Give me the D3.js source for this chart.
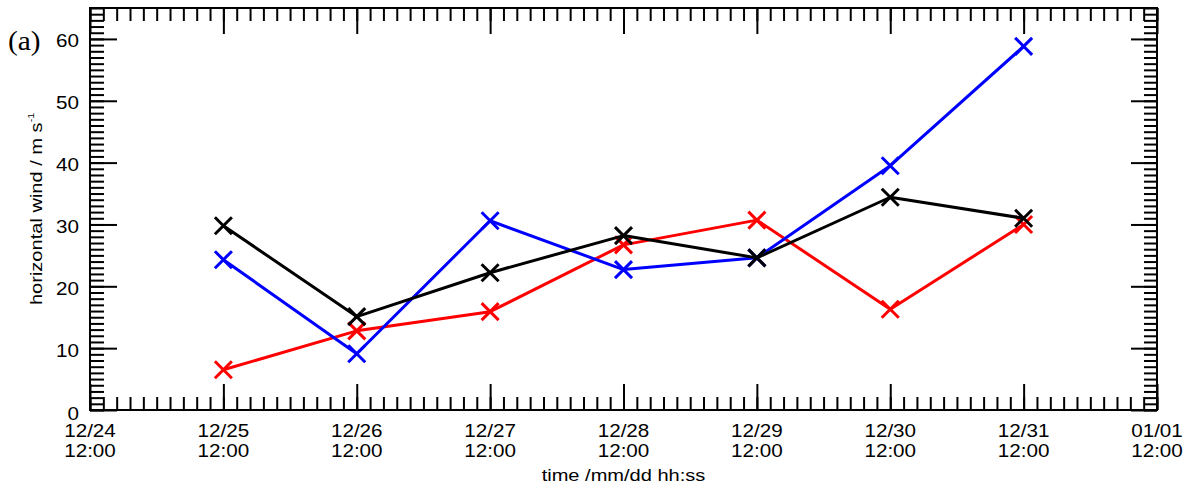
<!DOCTYPE html>
<html>
<head>
<meta charset="utf-8">
<script src="https://cdn.jsdelivr.net/npm/d3@7"></script>
<style>
  body { margin: 0; background: #fff; }
  text { font-family: "Liberation Sans", Arial, sans-serif; fill: #000; }
  text.serif { font-family: "Liberation Serif", "Times New Roman", serif; }
</style>
</head>
<body>
<div id="vis"></div>
<script>
// ---- data ----
var times = ["12/25 12:00", "12/26 12:00", "12/27 12:00", "12/28 12:00",
             "12/29 12:00", "12/30 12:00", "12/31 12:00"];
var redWind   = [6.5, 12.8, 15.9, 26.7, 30.7, 16.3, 30.0];
var blueWind  = [24.3, 9.1, 30.6, 22.7, 24.6, 39.5, 58.8];
var blackWind = [29.8, 15.1, 22.2, 28.2, 24.6, 34.4, 31.0];
var xTickLabels = ["12/24 12:00", "12/25 12:00", "12/26 12:00", "12/27 12:00", "12/28 12:00",
                   "12/29 12:00", "12/30 12:00", "12/31 12:00", "01/01 12:00"];
var yTicks = [0, 10, 20, 30, 40, 50, 60];

var parseTime = function(s) {
  // year rolls over at 01/01
  var yr = s.slice(0, 2) == "01" ? "2001" : "2000";
  return d3.timeParse("%Y/%m/%d %H:%M")(yr + "/" + s);
};

var width = 1192, height = 488;
var margin = { top: 8, right: 35, bottom: 78, left: 90 },
  widthVis = width - margin.left - margin.right,
  heightVis = height - margin.top - margin.bottom;
var stretch = 1.18; // the original font is wider than Liberation Sans

var svg = d3.select("#vis").append("svg")
  .attr("width", width)
  .attr("height", height);

var x = d3.scaleTime()
  .domain([parseTime(xTickLabels[0]), parseTime(xTickLabels[xTickLabels.length - 1])])
  .range([0, widthVis]);
var y = d3.scaleLinear().domain([0, 65]).range([heightVis, 0]);

var g = svg.append("g")
  .attr("transform", "translate(" + margin.left + "," + margin.top + ")");

// tick positions: majors every day, minors every 2.4 h / every 1 unit
var xMajor = xTickLabels.map(parseTime);
var xMinor = d3.range(0, 81).map(function(i) {
  return new Date(xMajor[0].getTime() + i * 2.4 * 3600 * 1000);
});
var yMinor = d3.range(0, 66);

function styleAxis(sel) {
  sel.select(".domain").remove();
  sel.selectAll("line").attr("stroke", "#000").attr("stroke-width", 2);
}

// bottom / top
g.append("g").attr("transform", "translate(0," + heightVis + ")")
  .call(d3.axisBottom(x).tickValues(xMinor).tickSize(-13).tickFormat("")).call(styleAxis);
g.append("g").attr("transform", "translate(0," + heightVis + ")")
  .call(d3.axisBottom(x).tickValues(xMajor).tickSize(-26).tickFormat("")).call(styleAxis);
g.append("g")
  .call(d3.axisTop(x).tickValues(xMinor).tickSize(-13).tickFormat("")).call(styleAxis);
g.append("g")
  .call(d3.axisTop(x).tickValues(xMajor).tickSize(-26).tickFormat("")).call(styleAxis);
// left / right
g.append("g")
  .call(d3.axisLeft(y).tickValues(yMinor).tickSize(-14).tickFormat("")).call(styleAxis);
g.append("g")
  .call(d3.axisLeft(y).tickValues(yTicks).tickSize(-27).tickFormat("")).call(styleAxis);
g.append("g").attr("transform", "translate(" + widthVis + ",0)")
  .call(d3.axisRight(y).tickValues(yMinor).tickSize(-13).tickFormat("")).call(styleAxis);
g.append("g").attr("transform", "translate(" + widthVis + ",0)")
  .call(d3.axisRight(y).tickValues(yTicks).tickSize(-26).tickFormat("")).call(styleAxis);

g.append("rect")
  .attr("width", widthVis).attr("height", heightVis)
  .attr("fill", "none").attr("stroke", "#000").attr("stroke-width", 2);

// tick labels
g.selectAll(".ylab").data(yTicks).enter().append("text")
  .attr("class", "ylab")
  .attr("text-anchor", "end")
  .attr("font-size", 17.5)
  .attr("transform", function(d) {
    return "translate(-11," + (y(d) + (d == 0 ? 10 : 8.5)) + ") scale(" + stretch + ",1)";
  })
  .text(function(d) { return d; });

var xl = g.selectAll(".xlab").data(xTickLabels).enter().append("g")
  .attr("class", "xlab")
  .attr("transform", function(d) { return "translate(" + x(parseTime(d)) + ",0)"; });
xl.append("text")
  .attr("text-anchor", "middle").attr("font-size", 17.5)
  .attr("transform", "translate(0," + (heightVis + 27) + ") scale(" + stretch + ",1)")
  .text(function(d) { return d.split(" ")[0]; });
xl.append("text")
  .attr("text-anchor", "middle").attr("font-size", 17.5)
  .attr("transform", "translate(0," + (heightVis + 47) + ") scale(" + stretch + ",1)")
  .text(function(d) { return d.split(" ")[1]; });

// axis titles
g.append("text")
  .attr("text-anchor", "middle").attr("font-size", 17)
  .attr("transform", "translate(" + (widthVis / 2) + "," + (heightVis + 71) + ") scale(" + stretch + ",1)")
  .text("time /mm/dd hh:ss");
var yt = g.append("text")
  .attr("text-anchor", "middle").attr("font-size", 17)
  .attr("transform", "translate(-48," + (heightVis / 2) + ") rotate(-90) scale(" + stretch + ",1)");
yt.append("tspan").text("horizontal wind / m s");
yt.append("tspan").attr("font-size", 9).attr("dy", -8).text("-1");

svg.append("text")
  .attr("class", "serif")
  .attr("font-size", 28)
  .attr("transform", "translate(8,50) scale(1.05,1)")
  .text("(a)");

// ---- series ----
var series = [
  { color: "#ff0000", values: redWind },
  { color: "#0000ff", values: blueWind },
  { color: "#000000", values: blackWind }
];
var line = d3.line()
  .x(function(d, i) { return x(parseTime(times[i])); })
  .y(function(d) { return y(d); });
var m = 8.5; // half size of the x markers

series.forEach(function(s) {
  var sg = g.append("g");
  sg.append("path")
    .attr("d", line(s.values))
    .attr("fill", "none")
    .attr("stroke", s.color)
    .attr("stroke-width", 3)
    .attr("stroke-linejoin", "round");
  sg.selectAll("path.mark").data(s.values).enter().append("path")
    .attr("class", "mark")
    .attr("d", function(d, i) {
      var cx = x(parseTime(times[i])), cy = y(d);
      return "M" + (cx - m) + "," + (cy - m) + "L" + (cx + m) + "," + (cy + m) +
        "M" + (cx - m) + "," + (cy + m) + "L" + (cx + m) + "," + (cy - m);
    })
    .attr("stroke", s.color)
    .attr("stroke-width", 3);
});
</script>
</body>
</html>
